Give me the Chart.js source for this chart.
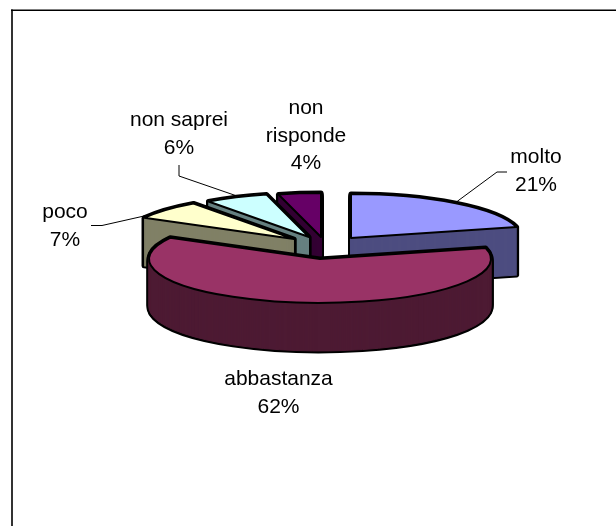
<!DOCTYPE html>
<html>
<head>
<meta charset="utf-8">
<title>Grafico a torta</title>
<script src="https://cdn.jsdelivr.net/npm/chart.js@4"></script>
<style>
  html, body { margin: 0; padding: 0; background: #fff; }
  canvas { display: block; }
</style>
</head>
<body>
<canvas id="grafico" width="616" height="526"></canvas>
<script>
const categorie = ['molto', 'abbastanza', 'poco', 'non saprei', 'non risponde'];
const valori = [21, 62, 7, 6, 4];

const coloriFaccia = ['#9999FF', '#993366', '#FFFFCC', '#CCFFFF', '#660066'];
const coloriLato = ['#4D4D80', '#4D1A33', '#808066', '#668080', '#330033'];

// vista 3D: schiacciamento, spessore, spostamento di ogni fetta dal centro
const schiacciamento = 0.257;
const spessore = 48;
const spostamenti = [[31, -21], [0, 0], [-26, -20], [-11, -22], [1, -22]];
const ordineDisegno = [4, 3, 2, 0, 1];

// etichette: righe, centro x, prima linea di base
const righeEtichette = [['molto'], ['abbastanza'], ['poco'], ['non saprei'], ['non', 'risponde']];
const posEtichette = [[536, 163], [278.5, 385], [65, 218], [179, 126], [306, 114]];
const lineeGuida = [
  [[455, 203], [497, 172], [507, 172]],
  [],
  [[91, 225.5], [102, 225.5], [153, 214]],
  [[179, 165], [179, 176], [237, 196]],
  []
];

function percorsoFetta(ctx, el, i, dy) {
  ctx.save();
  ctx.translate(el.x + spostamenti[i][0], el.y + spostamenti[i][1] + dy);
  ctx.scale(1, schiacciamento);
  ctx.beginPath();
  ctx.moveTo(0, 0);
  ctx.arc(0, 0, el.outerRadius, el.startAngle, el.endAngle);
  ctx.closePath();
  ctx.restore();
}

const torta3d = {
  id: 'torta3d',
  beforeDatasetsDraw(chart) {
    const ctx = chart.ctx;
    const archi = chart.getDatasetMeta(0).data;

    // cornice: solo lato alto e sinistro
    ctx.fillStyle = '#000';
    ctx.fillRect(11, 9.5, 605, 1.5);
    ctx.fillRect(11.2, 9.5, 1.6, 516.5);

    ctx.lineJoin = 'round';
    ordineDisegno.forEach(i => {
      const el = archi[i];

      // contorno del solido
      ctx.strokeStyle = '#000';
      ctx.lineWidth = 5;
      for (let dy = spessore; dy >= 0; dy--) {
        percorsoFetta(ctx, el, i, dy);
        ctx.stroke();
      }
      // lati
      ctx.fillStyle = coloriLato[i];
      ctx.strokeStyle = coloriLato[i];
      ctx.lineWidth = 1;
      for (let dy = spessore; dy >= 0; dy--) {
        percorsoFetta(ctx, el, i, dy);
        ctx.fill();
        ctx.stroke();
      }

      // faccia superiore
      ctx.save();
      ctx.translate(el.x + spostamenti[i][0], el.y + spostamenti[i][1]);
      ctx.scale(1, schiacciamento);
      ctx.translate(-el.x, -el.y);
      el.draw(ctx);
      ctx.restore();

      percorsoFetta(ctx, el, i, 0);
      ctx.strokeStyle = '#000';
      ctx.lineWidth = 2;
      ctx.stroke();
    });

    // linee guida
    ctx.strokeStyle = '#000';
    ctx.lineWidth = 1;
    lineeGuida.forEach(punti => {
      if (!punti.length) return;
      ctx.beginPath();
      punti.forEach((p, k) => k ? ctx.lineTo(p[0], p[1]) : ctx.moveTo(p[0], p[1]));
      ctx.stroke();
    });

    // etichette
    ctx.fillStyle = '#000';
    ctx.font = '21px "Liberation Sans", Arial, sans-serif';
    ctx.textAlign = 'center';
    ctx.textBaseline = 'alphabetic';
    categorie.forEach((c, i) => {
      const righe = righeEtichette[i].concat(valori[i] + '%');
      righe.forEach((r, k) => ctx.fillText(r, posEtichette[i][0], posEtichette[i][1] + k * 27.6));
    });

    return false;
  }
};

new Chart(document.getElementById('grafico'), {
  type: 'pie',
  data: {
    labels: categorie,
    datasets: [{
      data: valori,
      backgroundColor: coloriFaccia,
      borderWidth: 0,
      radius: 171
    }]
  },
  options: {
    responsive: false,
    animation: false,
    events: [],
    layout: { padding: { left: 24, bottom: 8 } },
    plugins: {
      legend: { display: false },
      tooltip: { enabled: false }
    }
  },
  plugins: [torta3d]
});
</script>
</body>
</html>
